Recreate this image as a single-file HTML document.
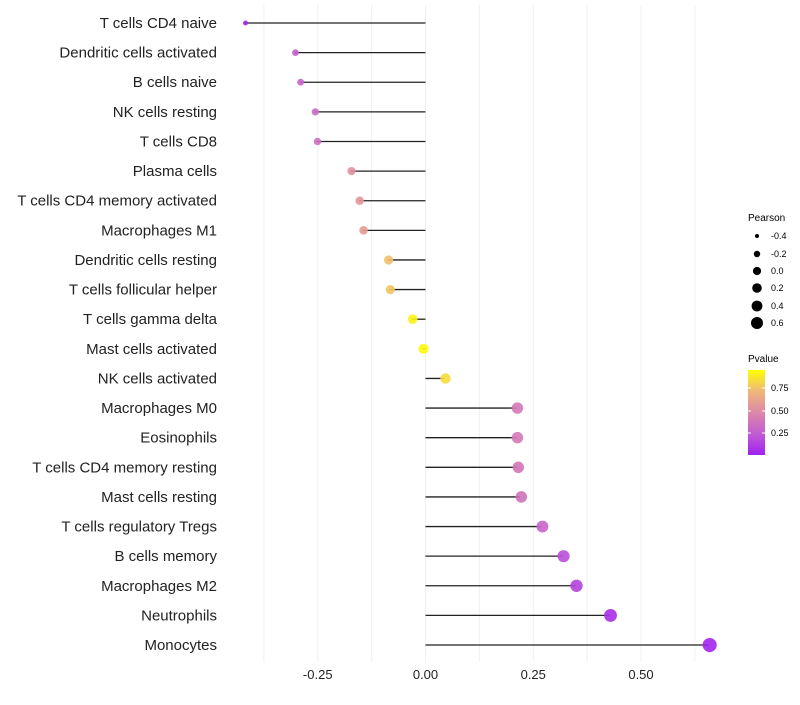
<!DOCTYPE html>
<html><head><meta charset="utf-8"><style>
body{margin:0;background:#fff;font-family:"Liberation Sans",sans-serif}
</style></head><body>
<svg id="c" width="800" height="700" xmlns="http://www.w3.org/2000/svg">
<defs><linearGradient id="pg" x1="0" y1="1" x2="0" y2="0">
<stop offset="0" stop-color="#a020f0"/><stop offset="0.25" stop-color="#c15cd3"/><stop offset="0.5" stop-color="#dc88a8"/><stop offset="0.75" stop-color="#efb77a"/><stop offset="1" stop-color="#ffff00"/>
</linearGradient></defs>
<g id="grid"></g><g id="marks"></g><g id="labels"></g>
<g font-size="9">
<text x="748" y="221" font-size="10">Pearson</text>
<circle cx="757" cy="236" r="2"/><text x="771" y="239">-0.4</text>
<circle cx="757" cy="254" r="3.2"/><text x="771" y="257">-0.2</text>
<circle cx="757" cy="271" r="4.1"/><text x="771" y="274">0.0</text>
<circle cx="757" cy="288" r="4.8"/><text x="771" y="291">0.2</text>
<circle cx="757" cy="306" r="5.4"/><text x="771" y="309">0.4</text>
<circle cx="757" cy="323" r="6"/><text x="771" y="326">0.6</text>
</g>
<g font-size="9">
<text x="748" y="362" font-size="10">Pvalue</text>
<rect x="748" y="370" width="17" height="85" fill="url(#pg)"/>
<line x1="748" x2="751" y1="388" y2="388" stroke="#fff"/><line x1="762" x2="765" y1="388" y2="388" stroke="#fff"/>
<line x1="748" x2="751" y1="411" y2="411" stroke="#fff"/><line x1="762" x2="765" y1="411" y2="411" stroke="#fff"/>
<line x1="748" x2="751" y1="433" y2="433" stroke="#fff"/><line x1="762" x2="765" y1="433" y2="433" stroke="#fff"/>
<text x="771" y="391">0.75</text><text x="771" y="414">0.50</text><text x="771" y="436">0.25</text>
</g>
</svg>
<script>
const categories=["T cells CD4 naive","Dendritic cells activated","B cells naive","NK cells resting","T cells CD8","Plasma cells","T cells CD4 memory activated","Macrophages M1","Dendritic cells resting","T cells follicular helper","T cells gamma delta","Mast cells activated","NK cells activated","Macrophages M0","Eosinophils","T cells CD4 memory resting","Mast cells resting","T cells regulatory  Tregs","B cells memory","Macrophages M2","Neutrophils","Monocytes"];
const pearson=[-0.42,-0.304,-0.292,-0.258,-0.253,-0.174,-0.155,-0.146,-0.088,-0.084,-0.032,-0.007,0.044,0.211,0.211,0.213,0.220,0.269,0.318,0.348,0.427,0.657];
const pvalue=[0.03,0.28,0.3,0.35,0.36,0.55,0.58,0.6,0.78,0.8,0.95,0.98,0.88,0.42,0.42,0.4,0.38,0.3,0.2,0.15,0.06,0.02];
const xTicks=[-0.25,0,0.25,0.5];
const xTickLabels=["-0.25","0.00","0.25","0.50"];
const NS="http://www.w3.org/2000/svg";
const x=v=>425.5+v*431;
const y=i=>23+i*29.62;
const stops=[[0,[160,32,240]],[0.25,[193,92,211]],[0.5,[220,136,168]],[0.75,[239,183,122]],[1,[255,255,0]]];
function col(p){for(let k=1;k<stops.length;k++){if(p<=stops[k][0]||k==stops.length-1){const a=stops[k-1],b=stops[k];const t=Math.max(0,Math.min(1,(p-a[0])/(b[0]-a[0])));return "rgb("+a[1].map((c,j)=>Math.round(c+(b[1][j]-c)*t)).join(",")+")";}}}
const rad=v=>Math.sqrt(Math.max(2.25,25+(v<0?45:38)*v));
function mk(t,at,p){const e=document.createElementNS(NS,t);for(const k in at)e.setAttribute(k,at[k]);p.appendChild(e);return e;}
const g=document.getElementById('grid'),m=document.getElementById('marks'),L=document.getElementById('labels');
for(let v=-0.375;v<=0.63;v+=0.125){const e=mk('line',{x1:x(v),x2:x(v),y1:5,y2:662,stroke:'#f0f0f0','stroke-width':1},g);

}
xTicks.forEach((v,i)=>{const t=mk('text',{x:x(v),y:679,'text-anchor':'middle','font-size':13,fill:'#222'},L);t.textContent=xTickLabels[i];

});
categories.forEach((c,i)=>{
const t=mk('text',{x:217,y:y(i)+5,'text-anchor':'end','font-size':15,fill:'#222'},L);t.textContent=c;


const ln=mk('line',{x1:x(0),x2:x(pearson[i]),y1:y(i),y2:y(i),stroke:'#222','stroke-width':1.3},m);


const d=mk('circle',{cx:x(pearson[i])+1,cy:y(i),r:rad(pearson[i]),fill:col(pvalue[i]),'fill-opacity':0.9},m);


});
</script>
</body></html>
